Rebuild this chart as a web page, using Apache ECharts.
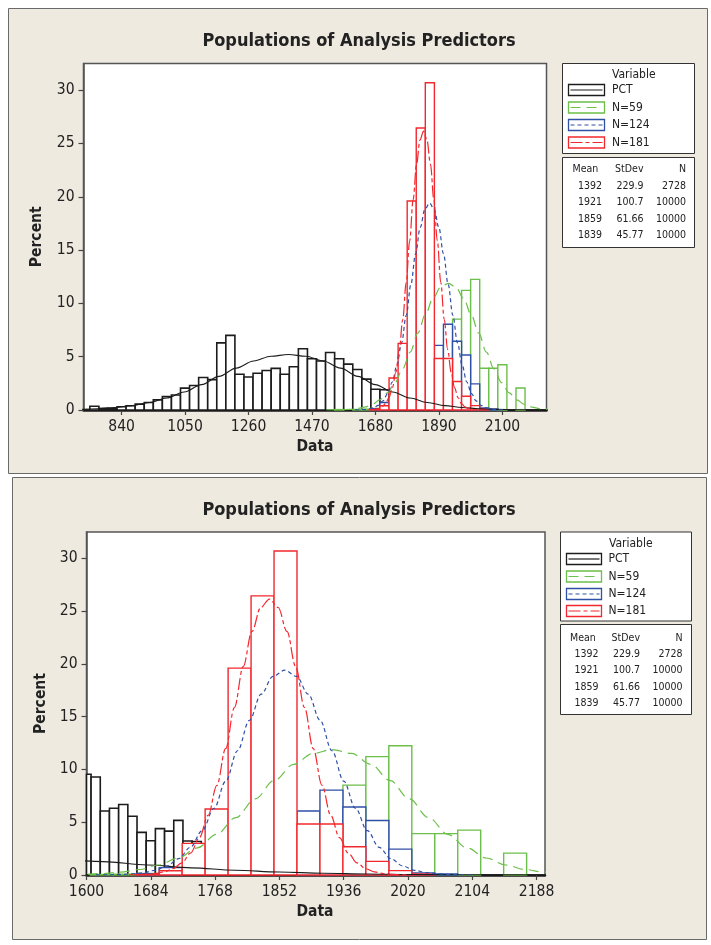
<!DOCTYPE html>
<html><head><meta charset="utf-8">
<script src="https://cdn.jsdelivr.net/npm/echarts@6/dist/echarts.min.js"></script>
<style>html,body{margin:0;padding:0;background:#fff}#c{width:711px;height:945px}</style>
</head><body><div id="c"></div><script>
// ---------- text ----------
const titleText = 'Populations of Analysis Predictors';
const xName = 'Data';
const yName = 'Percent';
const variables = ['PCT', 'N=59', 'N=124', 'N=181'];
const statHeader = ['Mean', 'StDev', 'N'];
const statMean = ['1392', '1921', '1859', '1839'];
const statSd = ['229.9', '100.7', '61.66', '45.77'];
const statN = ['2728', '10000', '10000', '10000'];

// ---------- ticks ----------
const yTicks = [0, 5, 10, 15, 20, 25, 30];
const xTicksTop = [840, 1050, 1260, 1470, 1680, 1890, 2100];
const xTicksBottom = [1600, 1684, 1768, 1852, 1936, 2020, 2104, 2188];

// ---------- histogram data (bin midpoints, percent) ----------
const binWidth = 30;
const blackTopMids = [750,780,810,840,870,900,930,960,990,1020,1050,1080,1110,1140,1170,1200,1230,1260,1290,1320,1350,1380,1410,1440,1470,1500,1530,1560,1590,1620,1650,1680,1710];
const blackTopPct = [0.35,0.15,0.15,0.3,0.4,0.55,0.7,0.95,1.25,1.4,2.05,2.3,3.05,2.85,6.3,7.0,3.35,3.1,3.45,3.7,3.9,3.35,4.05,5.75,4.8,4.6,5.4,4.8,4.3,3.8,2.9,1.95,1.9];

const blackBottomBinWidth = 12;
const blackBottomMids = [1600,1612,1624,1636,1648,1660,1672,1684,1696,1708,1720,1732,1744];
const blackBottomPct = [9.54,9.28,6.06,6.32,6.68,5.56,4.04,3.24,4.39,4.16,5.18,3.22,3.18];

const coloredMids = [1560,1590,1620,1650,1680,1710,1740,1770,1800,1830,1860,1890,1920,1950,1980,2010,2040,2070,2100,2130,2160];
const greenPct = [0.04,null,0.05,0.08,0.15,null,null,null,null,null,null,null,null,8.52,11.22,12.25,3.92,3.92,4.25,null,2.07];
const bluePct  = [null,null,null,null,0.12,0.7,null,null,null,null,null,6.06,8.04,6.45,5.16,2.45,0.2,0.1,null,null,null];
const redPct   = [null,null,null,null,0.05,0.4,3.0,6.25,19.6,26.45,30.7,4.83,4.83,2.68,1.29,0.41,0.1,null,null,null,null];

// ---------- fitted curves (x, percent) ----------
const blackCurveTop = [[702.3,0.058],[759.8,0.119],[817.3,0.229],[874.7,0.414],[932.2,0.705],[989.7,1.126],[1047.2,1.690],[1104.6,2.383],[1162.1,3.158],[1219.6,3.930],[1277.1,4.594],[1334.5,5.046],[1392,5.206],[1449.5,5.046],[1506.9,4.594],[1564.4,3.930],[1621.9,3.158],[1679.4,2.383],[1736.9,1.690],[1794.3,1.126],[1851.8,0.705],[1909.3,0.414],[1966.8,0.229],[2024.2,0.119],[2081.7,0.058],[2139.2,0.026],[2196.7,0.011],[2254.1,0.005]];
const blackCurveBottom = [[1564.4,1.572],[1621.9,1.263],[1679.4,0.953],[1736.9,0.676],[1794.3,0.450],[1851.8,0.282],[1909.3,0.166],[1966.8,0.091],[2024.2,0.047],[2081.7,0.023],[2139.2,0.011],[2196.7,0.005],[2254.1,0.002]];
const greenCurve = [[1518.2,0.004],[1543.4,0.011],[1568.6,0.026],[1593.7,0.060],[1618.9,0.132],[1644.1,0.271],[1669.3,0.522],[1694.4,0.946],[1719.6,1.609],[1744.8,2.570],[1770.0,3.858],[1795.1,5.441],[1820.3,7.209],[1845.5,8.971],[1870.7,10.489],[1895.8,11.519],[1921,11.885],[1946.2,11.519],[1971.4,10.489],[1996.5,8.971],[2021.7,7.209],[2046.9,5.441],[2072.1,3.858],[2097.2,2.570],[2122.4,1.609],[2147.6,0.946],[2172.8,0.522],[2197.9,0.271],[2223.1,0.132],[2248.3,0.060]];
const blueCurve = [[1612.4,0.007],[1627.8,0.017],[1643.2,0.043],[1658.6,0.099],[1674.0,0.216],[1689.4,0.442],[1704.9,0.853],[1720.3,1.544],[1735.7,2.627],[1751.1,4.198],[1766.5,6.301],[1781.9,8.886],[1797.3,11.773],[1812.8,14.651],[1828.2,17.129],[1843.6,18.813],[1859,19.410],[1874.4,18.813],[1889.8,17.129],[1905.2,14.651],[1920.7,11.773],[1936.1,8.886],[1951.5,6.301],[1966.9,4.198],[1982.3,2.627],[1997.7,1.544],[2013.2,0.853],[2028.6,0.442],[2044.0,0.216],[2059.4,0.099],[2074.8,0.043],[2090.2,0.017],[2105.6,0.007]];
const redCurve = [[1655.9,0.009],[1667.4,0.023],[1678.8,0.057],[1690.2,0.133],[1701.7,0.291],[1713.1,0.596],[1724.6,1.149],[1736.0,2.080],[1747.5,3.539],[1758.9,5.655],[1770.3,8.489],[1781.8,11.972],[1793.2,15.860],[1804.7,19.738],[1816.1,23.077],[1827.6,25.344],[1839,26.149],[1850.4,25.344],[1861.9,23.077],[1873.3,19.738],[1884.8,15.860],[1896.2,11.972],[1907.7,8.489],[1919.1,5.655],[1930.5,3.539],[1942.0,2.080],[1953.4,1.149],[1964.9,0.596],[1976.3,0.291],[1987.8,0.133],[1999.2,0.057],[2010.6,0.023],[2022.1,0.009]];

// ---------- styles ----------
const FONT = "'DejaVu Sans Condensed','DejaVu Sans','Liberation Sans',sans-serif";
const COLORS = ['#1c1c1c', '#6cbf4a', '#3050a6', '#f2282e'];
const DASHES = [null, [10, 6], [4, 3], [12, 3, 4, 3]];
const PANEL = '#eeeae0';

const panels = [
  { grid: {left: 83.5, top: 63.5, width: 463, height: 346.5}, xMin: 714, xMax: 2246, xTicks: xTicksTop,
    black: [blackTopMids, blackTopPct, binWidth], blackCurve: blackCurveTop,
    frame: [8.5, 8.5, 699, 465], titleY: 41, yNameX: 37,
    leg: {bx: 562.5, by: 63.5, bw: 132, bh: 90, varX: 612, varY: 75, itemY: [90, 107.5, 125, 142.5], sx: 568.5, sw: 36, tx: 612,
          sy: 157.5, sh: 90, hy: 169, rowY: [186, 202.5, 219, 235.5], c1: 602, c2: 643.5, c3: 686, h1: 572.5} },
  { grid: {left: 86.5, top: 532, width: 458.5, height: 343}, xMin: 1600, xMax: 2199, xTicks: xTicksBottom,
    black: [blackBottomMids, blackBottomPct, blackBottomBinWidth], blackCurve: blackCurveBottom,
    frame: [12.5, 477.5, 694, 462], titleY: 510, yNameX: 41,
    leg: {bx: 560.5, by: 532, bw: 131, bh: 89, varX: 609, varY: 543.5, itemY: [559, 576.5, 594, 611], sx: 566.5, sw: 35, tx: 608.5,
          sy: 624.5, sh: 90, hy: 638.5, rowY: [654.5, 670.5, 687, 703.5], c1: 598.5, c2: 640, c3: 682.5, h1: 570} }
];

function hist(gi, mids, vals, width, color, lw) {
  const data = [];
  mids.forEach((m, i) => { if (vals[i] != null) data.push([m, vals[i]]); });
  return {
    type: 'custom', xAxisIndex: gi, yAxisIndex: gi, data, encode: {x: 0, y: 1}, z: 2, silent: true,
    renderItem(params, api) {
      const m = api.value(0), h = api.value(1);
      const a = api.coord([m - width / 2, h]);
      const b = api.coord([m + width / 2, 0]);
      const cs = params.coordSys;
      const r = echarts.graphic.clipRectByRect(
        {x: a[0], y: a[1], width: b[0] - a[0], height: b[1] - a[1]},
        {x: cs.x, y: cs.y, width: cs.width, height: cs.height});
      if (!r) return null;
      return {type: 'rect', shape: r, style: {fill: '#fff', stroke: color, lineWidth: lw}};
    }
  };
}
function curve(gi, pts, color, dash, lw) {
  return {type: 'line', xAxisIndex: gi, yAxisIndex: gi, data: pts, symbol: 'none', showSymbol: false,
    smooth: 0.35, smoothMonotone: 'x', silent: true, z: 3,
    lineStyle: {color, width: lw, type: dash || 'solid'}};
}
function txt(t, x, y, font, align, color, extra) {
  return Object.assign({type: 'text', x, y, z: 20, silent: true,
    style: {text: t, font, fill: color || '#222', textAlign: align, textVerticalAlign: 'middle', align, verticalAlign: 'middle'}}, extra || {});
}
const plain = v => String(v);

const grids = [], xAxes = [], yAxes = [], series = [], graphics = [];
panels.forEach((P, gi) => {
  grids.push(Object.assign({show: true, backgroundColor: '#fff', borderColor: '#555', borderWidth: 1.5}, P.grid));
  xAxes.push({gridIndex: gi, type: 'value', min: P.xMin, max: P.xMax,
    axisLine: {onZero: false, lineStyle: {color: '#1a1a1a', width: 2.5}},
    axisTick: {customValues: P.xTicks, length: 5, lineStyle: {color: '#444', width: 1.2}},
    axisLabel: {customValues: P.xTicks, formatter: plain, fontFamily: FONT, fontSize: 15.5, color: '#222', margin: 9},
    splitLine: {show: false}});
  yAxes.push({gridIndex: gi, type: 'value', min: 0, max: 32.5,
    axisLine: {show: true, lineStyle: {color: '#555', width: 1.5}},
    axisTick: {customValues: yTicks, length: 5, lineStyle: {color: '#444', width: 1.2}},
    axisLabel: {customValues: yTicks, formatter: plain, fontFamily: FONT, fontSize: 15.5, color: '#222', margin: 9},
    splitLine: {show: false}});
  series.push(hist(gi, P.black[0], P.black[1], P.black[2], COLORS[0], 1.6));
  series.push(hist(gi, coloredMids, greenPct, binWidth, COLORS[1], 1.4));
  series.push(hist(gi, coloredMids, bluePct, binWidth, COLORS[2], 1.4));
  series.push(hist(gi, coloredMids, redPct, binWidth, COLORS[3], 1.4));
  series.push(curve(gi, P.blackCurve, COLORS[0], null, 1.1));
  series.push(curve(gi, greenCurve, COLORS[1], DASHES[1], 1.2));
  series.push(curve(gi, blueCurve, COLORS[2], DASHES[2], 1.2));
  series.push(curve(gi, redCurve, COLORS[3], DASHES[3], 1.2));

  const f = P.frame;
  graphics.push({type: 'rect', z: -10, silent: true, shape: {x: f[0], y: f[1], width: f[2], height: f[3]}, style: {fill: PANEL, stroke: '#6a6a6a', lineWidth: 1}});
  graphics.push(txt(titleText, 359, P.titleY, 'bold 18px ' + FONT, 'center'));
  graphics.push(txt(yName, P.yNameX, P.grid.top + P.grid.height / 2, 'bold 15.5px ' + FONT, 'center', '#222', {rotation: Math.PI / 2}));
  graphics.push(txt(xName, 315, P.grid.top + P.grid.height + 37, 'bold 15.5px ' + FONT, 'center'));

  const L = P.leg;
  graphics.push({type: 'rect', z: 15, silent: true, shape: {x: L.bx, y: L.by, width: L.bw, height: L.bh}, style: {fill: '#fff', stroke: '#333', lineWidth: 1}});
  graphics.push(txt('Variable', L.varX, L.varY, '12px ' + FONT, 'left'));
  variables.forEach((v, i) => {
    const y = L.itemY[i];
    graphics.push({type: 'rect', z: 16, silent: true, shape: {x: L.sx, y: y - 5.5, width: L.sw, height: 11}, style: {fill: '#fff', stroke: COLORS[i], lineWidth: 1.3}});
    graphics.push({type: 'line', z: 17, silent: true, shape: {x1: L.sx + 2, y1: y, x2: L.sx + L.sw - 2, y2: y}, style: {stroke: COLORS[i], lineWidth: 1.2, lineDash: DASHES[i] || null}});
    graphics.push(txt(v, L.tx, y, '12px ' + FONT, 'left'));
  });
  graphics.push({type: 'rect', z: 15, silent: true, shape: {x: L.bx, y: L.sy, width: L.bw, height: L.sh}, style: {fill: '#fff', stroke: '#333', lineWidth: 1}});
  graphics.push(txt(statHeader[0], L.h1, L.hy, '10.5px ' + FONT, 'left'));
  graphics.push(txt(statHeader[1], L.c2, L.hy, '10.5px ' + FONT, 'right'));
  graphics.push(txt(statHeader[2], L.c3, L.hy, '10.5px ' + FONT, 'right'));
  statMean.forEach((m, i) => {
    graphics.push(txt(m, L.c1, L.rowY[i], '10.5px ' + FONT, 'right'));
    graphics.push(txt(statSd[i], L.c2, L.rowY[i], '10.5px ' + FONT, 'right'));
    graphics.push(txt(statN[i], L.c3, L.rowY[i], '10.5px ' + FONT, 'right'));
  });
});

const chart = echarts.init(document.getElementById('c'), null, {renderer: 'canvas'});
chart.setOption({
  animation: false,
  backgroundColor: '#fff',
  grid: grids, xAxis: xAxes, yAxis: yAxes, series, graphic: graphics
});
</script></body></html>
